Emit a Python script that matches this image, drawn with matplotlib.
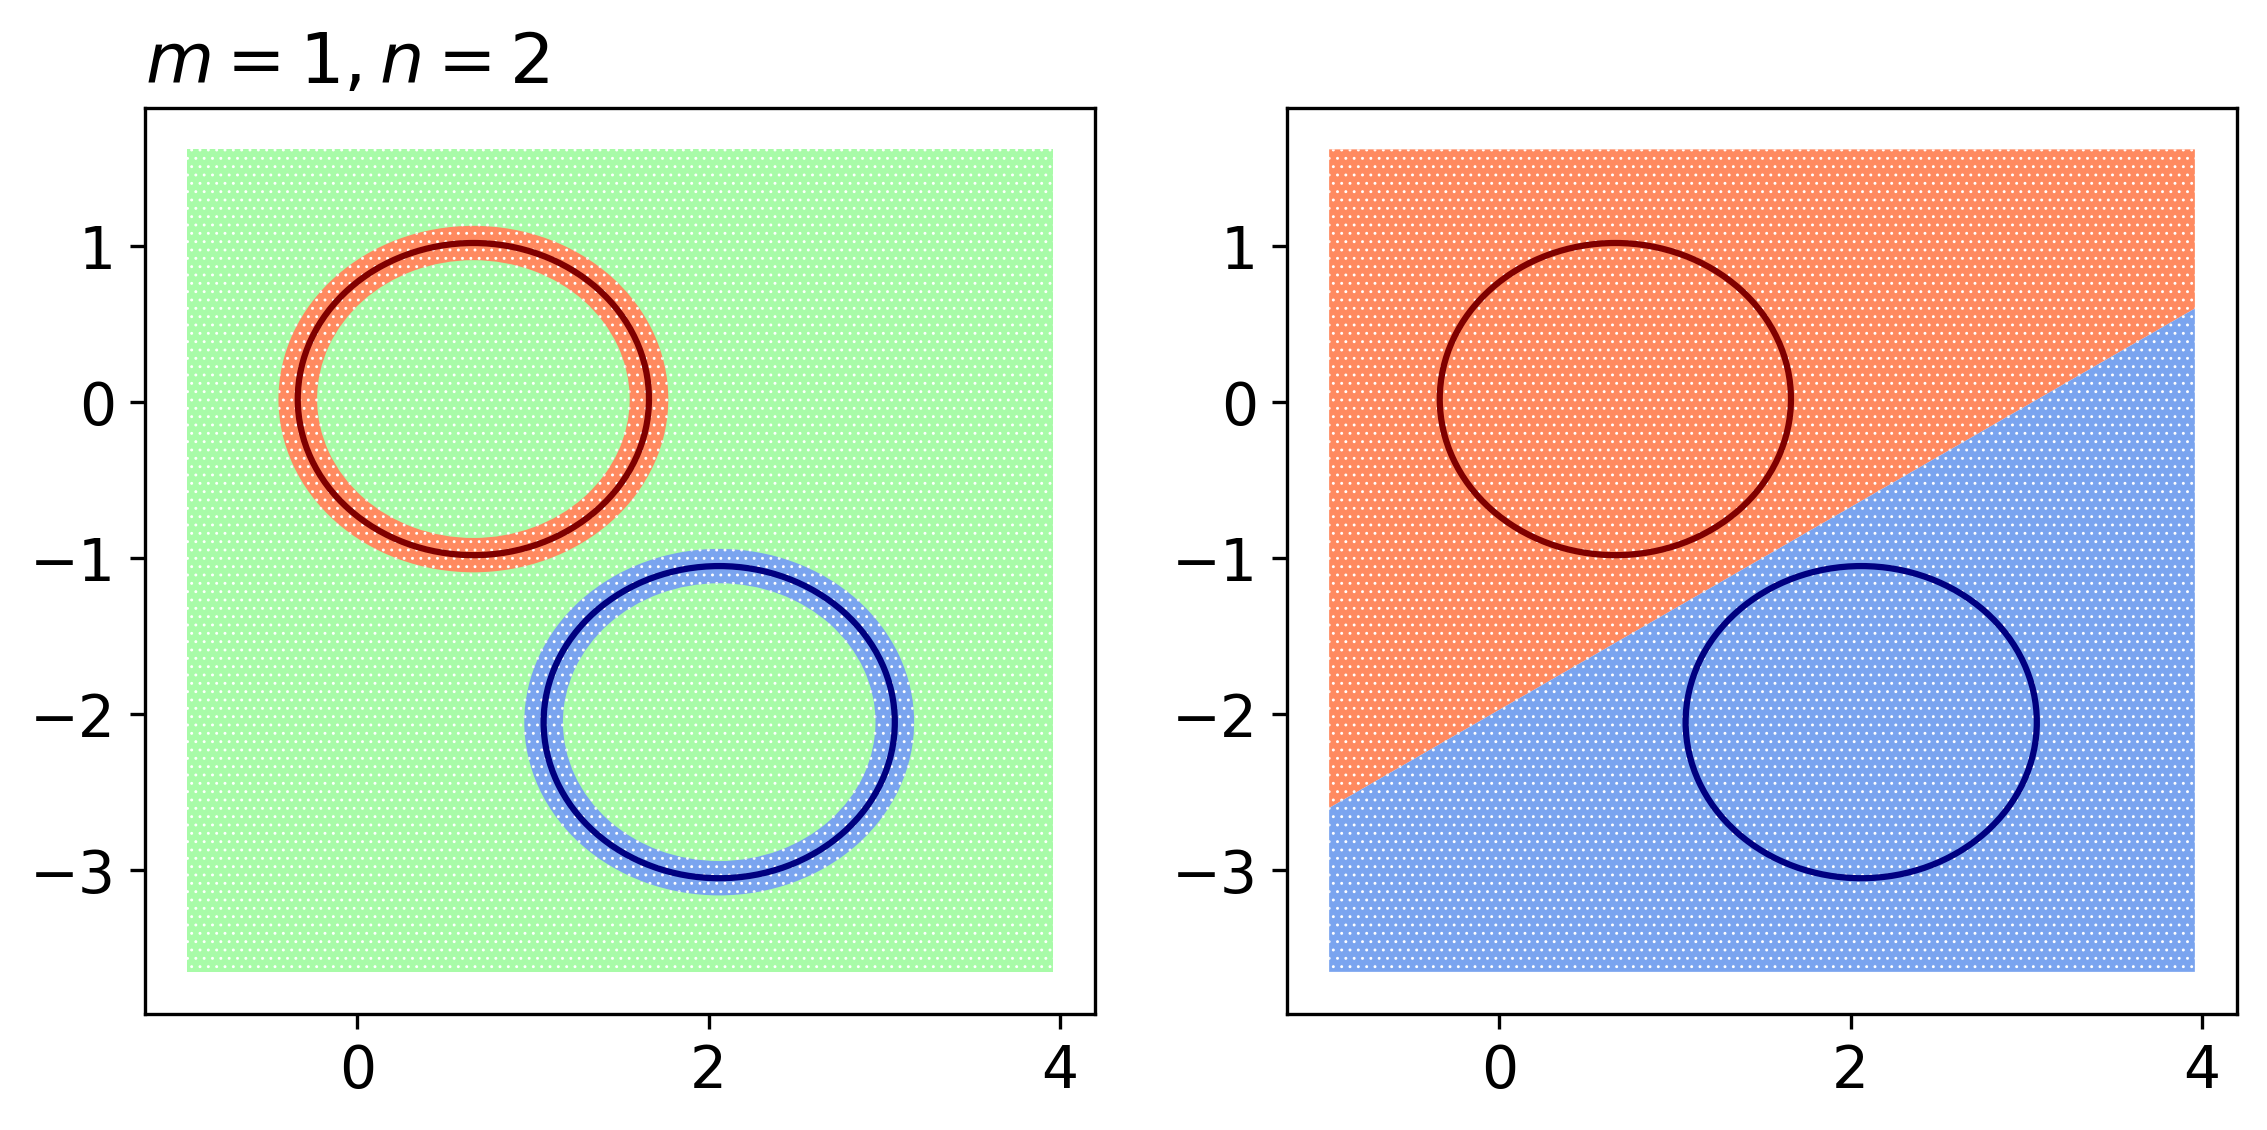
import matplotlib
matplotlib.use('Agg')
import matplotlib.pyplot as plt
from matplotlib.patches import Circle, Wedge

x_range = [-0.97, 3.96]
y_top = 1.62
y_bottom = -3.65

# line between the two classes in the right panel
boundary_y = [-2.6, 0.6]

# the two circles: centre x, centre y, radius
circle_x = [0.66, 2.06]
circle_y = [0.02, -2.05]
circle_r = [1.0, 1.0]
circle_colors = ['#800000', '#000080']

# band of points around each circle in the left panel
band_outer = [1.11, 1.11]
band_width = [0.22, 0.22]

x_ticks = [0, 2, 4]
y_ticks = [-3, -2, -1, 0, 1]
xlim = (-1.21, 4.2)
ylim = (-3.92, 1.885)

GREEN = '#a8fba8'
CORAL = '#ff8a60'
BLUE = '#7aa4ef'
band_colors = [CORAL, BLUE]

# the dot clouds are drawn as dotted fills, not as single points
plt.rcParams['hatch.linewidth'] = 0.3
HATCH = '......'


def dotted(ax, y1, y2, color):
    ax.fill_between(x_range, y1, y2, facecolor=color, edgecolor='white',
                    hatch=HATCH, linewidth=0)


def draw_circles(ax):
    for i in range(2):
        ax.add_patch(Circle((circle_x[i], circle_y[i]), circle_r[i], fill=False,
                            edgecolor=circle_colors[i], linewidth=1.5, zorder=5))


def setup(ax):
    ax.set_xlim(xlim)
    ax.set_ylim(ylim)
    ax.set_xticks(x_ticks)
    ax.set_yticks(y_ticks)
    ax.tick_params(labelsize=14)


W, H = 2267, 1130
fig = plt.figure(figsize=(W / 300, H / 300), dpi=300)
ax1 = fig.add_axes([145 / W, 1 - 1014 / H, 950 / W, 906 / H])
ax2 = fig.add_axes([1287 / W, 1 - 1014 / H, 950 / W, 906 / H])

dotted(ax1, y_bottom, y_top, GREEN)
for i in range(2):
    ax1.add_patch(Wedge((circle_x[i], circle_y[i]), band_outer[i], 0, 360,
                        width=band_width[i], facecolor=band_colors[i],
                        edgecolor='white', hatch=HATCH, linewidth=0, zorder=3))
draw_circles(ax1)
setup(ax1)
ax1.set_title('$m = 1, n = 2$', loc='left', fontsize=16.8)

dotted(ax2, boundary_y, y_top, CORAL)
dotted(ax2, y_bottom, boundary_y, BLUE)
draw_circles(ax2)
setup(ax2)

fig.savefig('out.png', dpi=300)
